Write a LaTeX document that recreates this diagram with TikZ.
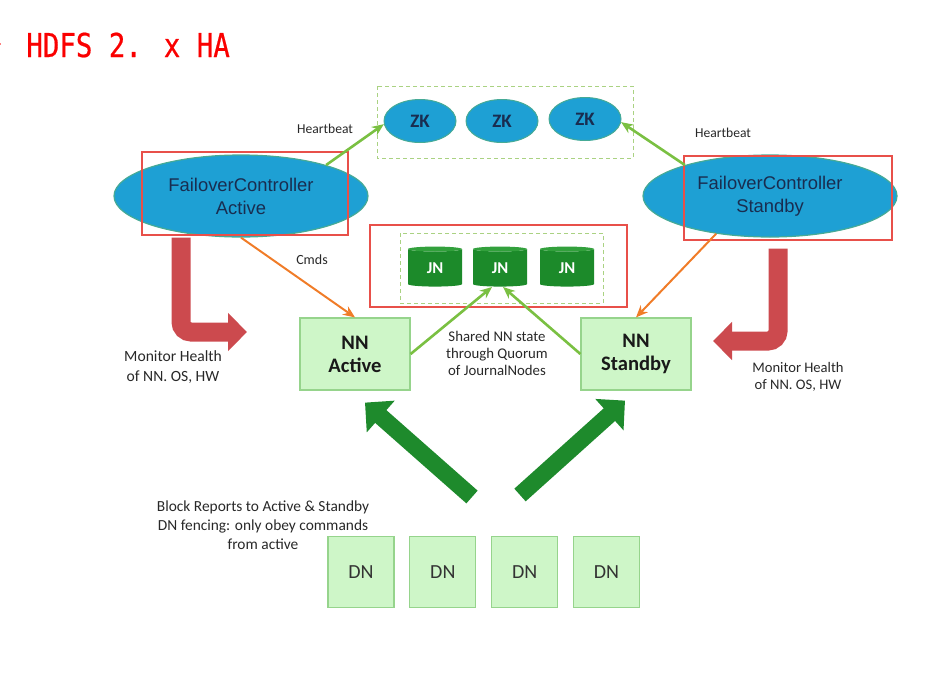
\documentclass[tikz,border=0pt]{standalone}
\usepackage{fontspec}
\setmainfont{Carlito}
\newfontfamily\fcfont{Liberation Sans}
\newfontfamily\titlefont[FakeBold=0.6]{DejaVu Sans Mono}
\usetikzlibrary{
    arrows.meta,
    shapes.geometric,
    positioning
}
\definecolor{zk blue}{RGB}{30,160,212}
\definecolor{zk edge}{RGB}{70,170,150}
\definecolor{navy text}{RGB}{25,45,80}
\definecolor{jn green}{RGB}{28,138,42}
\definecolor{jn top}{RGB}{50,160,60}
\definecolor{box green}{RGB}{206,246,200}
\definecolor{box edge}{RGB}{150,212,140}
\definecolor{dash green}{RGB}{170,210,130}
\definecolor{hl red}{RGB}{232,80,74}
\definecolor{title red}{RGB}{250,0,0}
\definecolor{hb green}{RGB}{122,192,66}
\definecolor{cmd orange}{RGB}{240,124,40}
\definecolor{mon red}{RGB}{204,74,78}
\definecolor{rep green}{RGB}{30,138,44}
\definecolor{note gray}{RGB}{40,40,40}
\tikzset{
    % Nodes
    zk/.style={ellipse,draw=zk edge,fill=zk blue,line width=0.5pt,inner sep=0pt,
        minimum width=36pt,minimum height=21.5pt,text=navy text,
        font=\bfseries\fontsize{9.5}{10}\selectfont},
    controller/.style={ellipse,draw=zk edge,fill=zk blue,line width=0.6pt,inner sep=0pt,
        minimum width=127pt,minimum height=41pt,align=center,text=navy text,
        font=\fcfont\fontsize{9.2}{11.5}\selectfont},
    journal/.style={cylinder,shape border rotate=90,aspect=0.3,draw=none,
        cylinder uses custom fill,cylinder body fill=jn green,cylinder end fill=jn top,
        minimum width=27pt,minimum height=20pt,inner sep=0pt,text=white,
        font=\bfseries\fontsize{8.3}{9}\selectfont},
    namenode/.style={rectangle,draw=box edge,fill=box green,line width=0.6pt,inner sep=0pt,
        minimum width=55pt,minimum height=36pt,align=center,text=black!90,
        font=\bfseries\fontsize{10.3}{11.5}\selectfont},
    datanode/.style={rectangle,draw=box edge,fill=box green,line width=0.6pt,inner sep=0pt,
        minimum width=33pt,minimum height=35.5pt,text=black!80,
        font=\fontsize{10}{12}\selectfont},
    group box/.style={draw=dash green,dashed,dash pattern=on 2pt off 1.5pt,line width=0.5pt},
    highlight/.style={draw=hl red,line width=1.1pt},
    note/.style={align=center,text=note gray,inner sep=0pt,font=\fontsize{7.7}{9.5}\selectfont},
    %
    % Arrows
    heartbeat/.style={draw=hb green,line width=1.3pt,-{Stealth[length=6pt,width=5pt]}},
    cmd/.style={draw=cmd orange,line width=1pt,-{Stealth[length=6pt,width=5pt]}},
    monitor/.style={draw=mon red,line width=9.5pt,rounded corners=5pt,-{Triangle[length=9.5pt,width=18.5pt]}},
    report/.style={draw=rep green,line width=8.5pt,-{Triangle[length=10.5pt,width=20.5pt]}},
}

\begin{document}
\begin{tikzpicture}[x=0.5pt,y=-0.5pt]
    \useasboundingbox (0,0) rectangle (951,680);
    \fill[title red] (-1,44) circle[radius=0.9pt];
    \node[anchor=base west,inner sep=0pt,text=title red,font=\titlefont\fontsize{13.7}{14}\selectfont] (title) at (26,57) {\scalebox{1}[1.2]{HDFS 2. x HA}};

    % ZooKeeper quorum
    \draw[group box] (377,86) rectangle (633,158);
    \node[zk] (zk1) at (420,121) {ZK};
    \node[zk] (zk2) at (502,121) {ZK};
    \node[zk] (zk3) at (585,119) {ZK};

    % Failover controllers
    \node[controller] (fc active) at (241,196) {FailoverController\\Active};
    \node[controller] (fc standby) at (770,196) {FailoverController\\Standby};
    \draw[highlight] (142,152) rectangle (348,235);
    \draw[highlight] (684,156) rectangle (892,240);

    % Journal nodes
    \draw[highlight] (370,225) rectangle (627,307);
    \draw[group box] (400,233) rectangle (603,303);
    \node[journal] (jn1) at (435,268) {JN};
    \node[journal] (jn2) at (500,268) {JN};
    \node[journal] (jn3) at (567,268) {JN};

    % Name nodes and data nodes
    \node[namenode] (nn active) at (355,354) {NN\\Active};
    \node[namenode] (nn standby) at (636,354) {NN\\Standby};
    \node[datanode] (dn1) at (361,572) {DN};
    \node[datanode,right=7.3pt of dn1] (dn2) {DN};
    \node[datanode,right=7.3pt of dn2] (dn3) {DN};
    \node[datanode,right=7.3pt of dn3] (dn4) {DN};

    % Connectors
    \draw[heartbeat] (fc active.20) -- (zk1.185);
    \draw[heartbeat] (fc standby.160) -- (zk3.-5);
    \draw[cmd] (fc active.south) -- (nn active.north);
    \draw[cmd] (fc standby.215) -- (nn standby.north);
    \draw[heartbeat] (nn active.east) -- ([xshift=-4pt]jn2.south);
    \draw[heartbeat] (nn standby.west) -- ([xshift=1.5pt]jn2.south);
    \coordinate (mon tip a) at (247,332);
    \coordinate (mon tip b) at (713,341);
    \draw[monitor] ([xshift=-30pt]fc active.south) |- (mon tip a);
    \draw[monitor] ([xshift=4pt,yshift=-5.5pt]fc standby.south) |- (mon tip b);
    \coordinate (report a) at (472,497);
    \coordinate (report b) at (520,495);
    \draw[report] (report a) -- ([xshift=5pt,yshift=-6pt]nn active.south);
    \draw[report] (report b) -- ([xshift=-5.5pt,yshift=-5pt]nn standby.south);

    % Labels
    \node[note,font=\fontsize{6.8}{8}\selectfont] (hb label a) at (325,129) {Heartbeat};
    \node[note,font=\fontsize{6.8}{8}\selectfont] (hb label b) at (723,133) {Heartbeat};
    \node[note,font=\fontsize{7}{8}\selectfont] (cmd label) at (312,260) {Cmds};
    \node[note,font=\fontsize{7.4}{8.5}\selectfont] (shared label) at (497,353) {Shared NN state\\through Quorum\\of JournalNodes};
    \node[note,font=\fontsize{7.8}{10}\selectfont] (mon label a) at (173,367) {Monitor Health\\of NN. OS, HW};
    \node[note,font=\fontsize{7.3}{8.5}\selectfont] (mon label b) at (798,377) {Monitor Health\\of NN. OS, HW};
    \node[note] (report label) at (263,525) {Block Reports to Active \& Standby\\DN fencing: only obey commands\\from active};
\end{tikzpicture}
\end{document}
